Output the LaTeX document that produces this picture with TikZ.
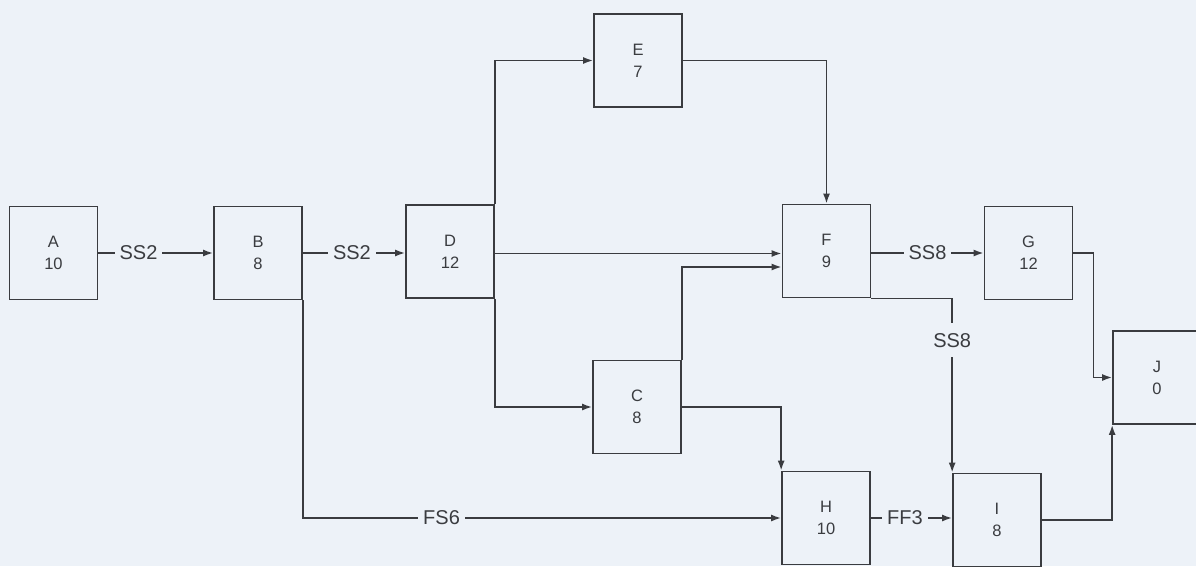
\documentclass[tikz,border=0pt]{standalone}
\usepackage{fontspec}
\setmainfont{Liberation Sans}
\usetikzlibrary{arrows.meta,calc,positioning}
\definecolor{fg}{RGB}{58,60,64}
\definecolor{bg}{RGB}{237,242,248}
\tikzset{
  every picture/.style={fg, line width=1.7pt, line join=miter,
    >={Latex[length=10pt,width=7pt]}},
  % Vorgänge
  act/.style={draw, fill=bg, minimum width=88pt, minimum height=93pt,
    align=center, inner sep=0pt, font=\fontsize{16.5}{22}\selectfont},
  % Anordnungsbeziehung mit Aussparung in der Linie
  lbl/.style={fill=bg, inner xsep=5pt, inner ysep=4pt, text=fg,
    font=\fontsize{20}{22}\selectfont},
  link/.style={->},
}
\begin{document}
\begin{tikzpicture}[x=1pt, y=1pt]
  \useasboundingbox[fill=bg] (0,0) rectangle (1196,566);
  % Vorgänge
  \node[act] (A) at (53.5,313)  {A\\10};
  \node[act] (B) at (258,313)   {B\\8};
  \node[act] (D) at (450,314.5) {D\\12};
  \node[act] (E) at (638,505.5) {E\\7};
  \node[act] (F) at (826.5,315) {F\\9};
  \node[act] (C) at (637,159)   {C\\8};
  \node[act] (G) at (1028.5,313){G\\12};
  \node[act] (H) at (826,48)    {H\\10};
  \node[act] (I) at (997,46)    {I\\8};
  \node[act] (J) at (1157,188.5){J\\0};
  % Beziehungen
  \draw[link] (A) -- node[lbl, pos=0.35] {SS2} (B);
  \draw[link] (B.east) -- node[lbl, pos=0.48] {SS2} (B.east -| D.west);
  \draw[link] (D.north east) |- (E.west);
  \draw[link] (D.south east) |- (C.west);
  \draw[link] ([yshift=-2pt]D.east) -- ([yshift=-2pt]D.east -| F.west);
  \draw[link] (E.east) -| (F.north);
  \draw[link] (C.north east) |- ([yshift=-16pt]F.west);
  \draw[link] (C.east) -| (H.north west);
  \draw[link] (B.south east) |- node[lbl, pos=0.645] {FS6} (H.west);
  \draw[link] ([yshift=-2pt]F.east) -- node[lbl, pos=0.5] {SS8} ([yshift=-2pt]F.east -| G.west);
  \draw[link] (F.south east) -| node[lbl, pos=0.62, inner ysep=10pt] {SS8} (I.north west);
  \draw[link] (H.east) -- node[lbl, pos=0.42] {FF3} (H.east -| I.west);
  \draw[link] (G.east) -- ++(20,0) |- (J.west);
  \draw[link] (I.east) -- (I.east -| J.south west) -- (J.south west);
\end{tikzpicture}
\end{document}
